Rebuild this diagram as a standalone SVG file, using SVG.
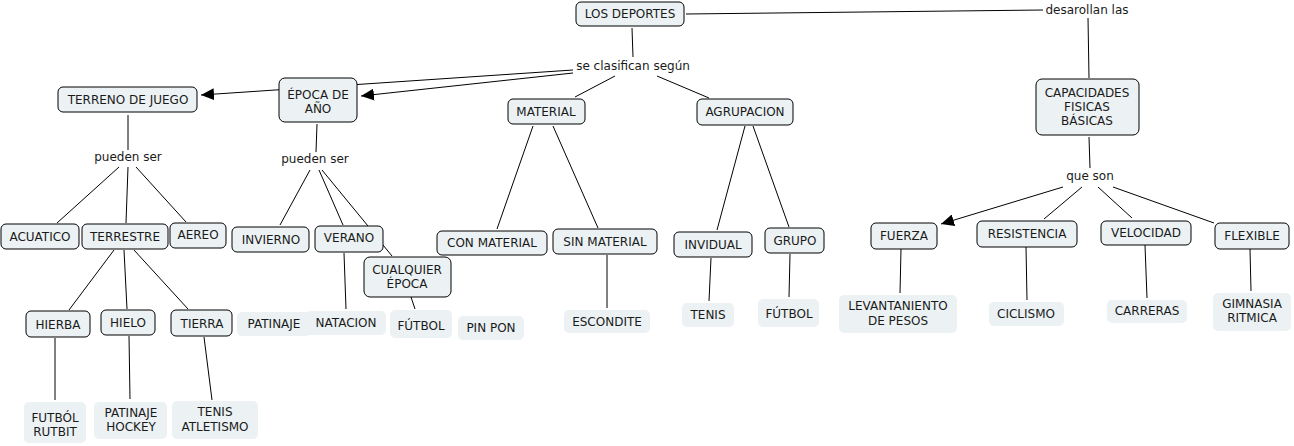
<svg xmlns="http://www.w3.org/2000/svg" width="1294" height="446" viewBox="0 0 1294 446">
<style>
text{font-family:"DejaVu Sans",Verdana,sans-serif;font-size:12px;fill:#1a1a1a;text-anchor:middle}
.n{fill:#ecf2f4;stroke:#000;stroke-width:1}
.l{fill:#ecf2f4;stroke:none}
.c line{stroke:#000;stroke-width:1}
</style>
<defs>
<marker id="ar" markerWidth="14" markerHeight="12" refX="13" refY="6" orient="auto" markerUnits="userSpaceOnUse">
<path d="M0,0 L13,6 L0,12 Z" fill="#000"/>
</marker>
</defs>
<rect width="1294" height="446" fill="#fff"/>
<g class="c" id="connectors">
<line x1="686" y1="14" x2="1043" y2="10"/>
<line x1="1088" y1="18" x2="1089" y2="78"/>
<line x1="1089" y1="137" x2="1090" y2="168"/>
<line x1="1063" y1="187" x2="941" y2="224" marker-end="url(#ar)"/>
<line x1="1082" y1="187" x2="1044" y2="219"/>
<line x1="1098" y1="187" x2="1132" y2="218"/>
<line x1="1113" y1="187" x2="1214" y2="223"/>
<line x1="901" y1="249" x2="900" y2="293"/>
<line x1="1026" y1="247" x2="1027" y2="300"/>
<line x1="1145" y1="245" x2="1147" y2="298"/>
<line x1="1250" y1="249" x2="1251" y2="291"/>
<line x1="632" y1="28" x2="633" y2="57"/>
<line x1="615" y1="76" x2="575" y2="97"/>
<line x1="657" y1="76" x2="709" y2="98"/>
<line x1="573" y1="70" x2="201" y2="95" marker-end="url(#ar)"/>
<line x1="573" y1="73" x2="361" y2="96" marker-end="url(#ar)"/>
<line x1="533" y1="126" x2="497" y2="229"/>
<line x1="553" y1="126" x2="598" y2="228"/>
<line x1="607" y1="255" x2="607" y2="308"/>
<line x1="745" y1="126" x2="717" y2="230"/>
<line x1="753" y1="126" x2="789" y2="227"/>
<line x1="711" y1="258" x2="709" y2="301"/>
<line x1="790" y1="254" x2="789" y2="297"/>
<line x1="128" y1="115" x2="128" y2="150"/>
<line x1="119" y1="167" x2="57" y2="223"/>
<line x1="128" y1="167" x2="126" y2="223"/>
<line x1="136" y1="167" x2="186" y2="222"/>
<line x1="114" y1="250" x2="69" y2="310"/>
<line x1="124" y1="250" x2="127" y2="309"/>
<line x1="134" y1="250" x2="188" y2="309"/>
<line x1="55" y1="338" x2="55" y2="400"/>
<line x1="129" y1="336" x2="130" y2="399"/>
<line x1="204" y1="337" x2="212" y2="400"/>
<line x1="317" y1="124" x2="316" y2="152"/>
<line x1="310" y1="170" x2="280" y2="225"/>
<line x1="319" y1="170" x2="343" y2="225"/>
<line x1="322" y1="170" x2="368" y2="226"/>
<line x1="383" y1="245" x2="392" y2="256"/>
<line x1="344" y1="253" x2="346" y2="309"/>
<line x1="411" y1="297" x2="415" y2="309"/>
</g>
<g id="n-deportes"><rect class="n" x="576" y="2" width="108" height="24" rx="5"/><text x="630" y="18">LOS DEPORTES</text></g>
<g id="l-desarollan"><text x="1087" y="14">desarollan las</text></g>
<g id="l-clasifican"><text x="633" y="70">se clasifican según</text></g>
<g id="n-capacidades"><rect class="n" x="1036" y="79" width="103" height="56" rx="6"/><text x="1087" y="97">CAPACIDADES</text><text x="1087" y="111">FISICAS</text><text x="1087" y="125">BÁSICAS</text></g>
<g id="l-queson"><text x="1090" y="180">que son</text></g>
<g id="n-fuerza"><rect class="n" x="871" y="223" width="66" height="26" rx="5"/><text x="904" y="240">FUERZA</text></g>
<g id="n-resistencia"><rect class="n" x="977" y="221" width="100" height="26" rx="5"/><text x="1027" y="238">RESISTENCIA</text></g>
<g id="n-velocidad"><rect class="n" x="1101" y="221" width="90" height="24" rx="5"/><text x="1146" y="237">VELOCIDAD</text></g>
<g id="n-flexible"><rect class="n" x="1215" y="223" width="74" height="26" rx="5"/><text x="1252" y="240">FLEXIBLE</text></g>
<g id="n-levant"><rect class="l" x="839" y="295" width="118" height="38" rx="5"/><text x="898" y="310">LEVANTANIENTO</text><text x="898" y="325">DE PESOS</text></g>
<g id="n-ciclismo"><rect class="l" x="989" y="302" width="75" height="24" rx="5"/><text x="1026" y="318">CICLISMO</text></g>
<g id="n-carreras"><rect class="l" x="1107" y="300" width="80" height="23" rx="5"/><text x="1147" y="315">CARRERAS</text></g>
<g id="n-gimnasia"><rect class="l" x="1213" y="293" width="78" height="38" rx="5"/><text x="1252" y="308">GIMNASIA</text><text x="1252" y="322">RITMICA</text></g>
<g id="n-material"><rect class="n" x="508" y="99" width="77" height="25" rx="5"/><text x="546" y="116">MATERIAL</text></g>
<g id="n-agrupacion"><rect class="n" x="697" y="99" width="96" height="26" rx="5"/><text x="745" y="116">AGRUPACION</text></g>
<g id="n-conmat"><rect class="n" x="437" y="231" width="110" height="24" rx="5"/><text x="492" y="247">CON MATERIAL</text></g>
<g id="n-sinmat"><rect class="n" x="553" y="229" width="104" height="25" rx="5"/><text x="605" y="246">SIN MATERIAL</text></g>
<g id="n-escondite"><rect class="l" x="564" y="310" width="86" height="23" rx="5"/><text x="607" y="326">ESCONDITE</text></g>
<g id="n-invidual"><rect class="n" x="674" y="232" width="78" height="25" rx="5"/><text x="713" y="249">INVIDUAL</text></g>
<g id="n-grupo"><rect class="n" x="765" y="228" width="59" height="25" rx="5"/><text x="795" y="245">GRUPO</text></g>
<g id="n-tenis"><rect class="l" x="682" y="303" width="52" height="24" rx="5"/><text x="708" y="319">TENIS</text></g>
<g id="n-futbol2"><rect class="l" x="758" y="299" width="61" height="28" rx="5"/><text x="789" y="318">FÚTBOL</text></g>
<g id="n-epoca"><rect class="n" x="279" y="78" width="78" height="44" rx="6"/><text x="318" y="99">ÉPOCA DE</text><text x="318" y="113">AÑO</text></g>
<g id="n-terreno"><rect class="n" x="58" y="87" width="139" height="25" rx="5"/><text x="128" y="104">TERRENO DE JUEGO</text></g>
<g id="l-pueden1"><text x="128" y="161">pueden ser</text></g>
<g id="l-pueden2"><text x="315" y="163">pueden ser</text></g>
<g id="n-acuatico"><rect class="n" x="1" y="224" width="78" height="25" rx="5"/><text x="40" y="241">ACUATICO</text></g>
<g id="n-terrestre"><rect class="n" x="82" y="224" width="86" height="25" rx="5"/><text x="125" y="241">TERRESTRE</text></g>
<g id="n-aereo"><rect class="n" x="170" y="223" width="56" height="25" rx="5"/><text x="198" y="239">AEREO</text></g>
<g id="n-hierba"><rect class="n" x="26" y="311" width="64" height="26" rx="5"/><text x="58" y="329">HIERBA</text></g>
<g id="n-hielo"><rect class="n" x="101" y="310" width="54" height="25" rx="5"/><text x="128" y="327">HIELO</text></g>
<g id="n-tierra"><rect class="n" x="171" y="310" width="61" height="26" rx="5"/><text x="202" y="328">TIERRA</text></g>
<g id="n-futbolrutbit"><rect class="l" x="24" y="402" width="62" height="41" rx="5"/><text x="55" y="422">FUTBÓL</text><text x="55" y="436">RUTBIT</text></g>
<g id="n-patinajehockey"><rect class="l" x="94" y="402" width="73" height="37" rx="5"/><text x="131" y="417">PATINAJE</text><text x="131" y="431">HOCKEY</text></g>
<g id="n-tenisatl"><rect class="l" x="172" y="401" width="86" height="38" rx="5"/><text x="215" y="416">TENIS</text><text x="215" y="431">ATLETISMO</text></g>
<g id="n-invierno"><rect class="n" x="232" y="227" width="77" height="25" rx="5"/><text x="271" y="244">INVIERNO</text></g>
<g id="n-verano"><rect class="n" x="315" y="226" width="68" height="26" rx="5"/><text x="349" y="242">VERANO</text></g>
<g id="n-cualquier"><rect class="n" x="364" y="257" width="87" height="40" rx="6"/><text x="407" y="274">CUALQUIER</text><text x="407" y="288">ÉPOCA</text></g>
<g id="n-patinaje"><rect class="l" x="237" y="312" width="74" height="24" rx="5"/><text x="274" y="328">PATINAJE</text></g>
<g id="n-natacion"><rect class="l" x="306" y="311" width="80" height="24" rx="5"/><text x="346" y="327">NATACION</text></g>
<g id="n-futbol1"><rect class="l" x="390" y="310" width="62" height="28" rx="5"/><text x="421" y="330">FÚTBOL</text></g>
<g id="n-pinpon"><rect class="l" x="458" y="316" width="66" height="24" rx="5"/><text x="491" y="332">PIN PON</text></g>
</svg>
